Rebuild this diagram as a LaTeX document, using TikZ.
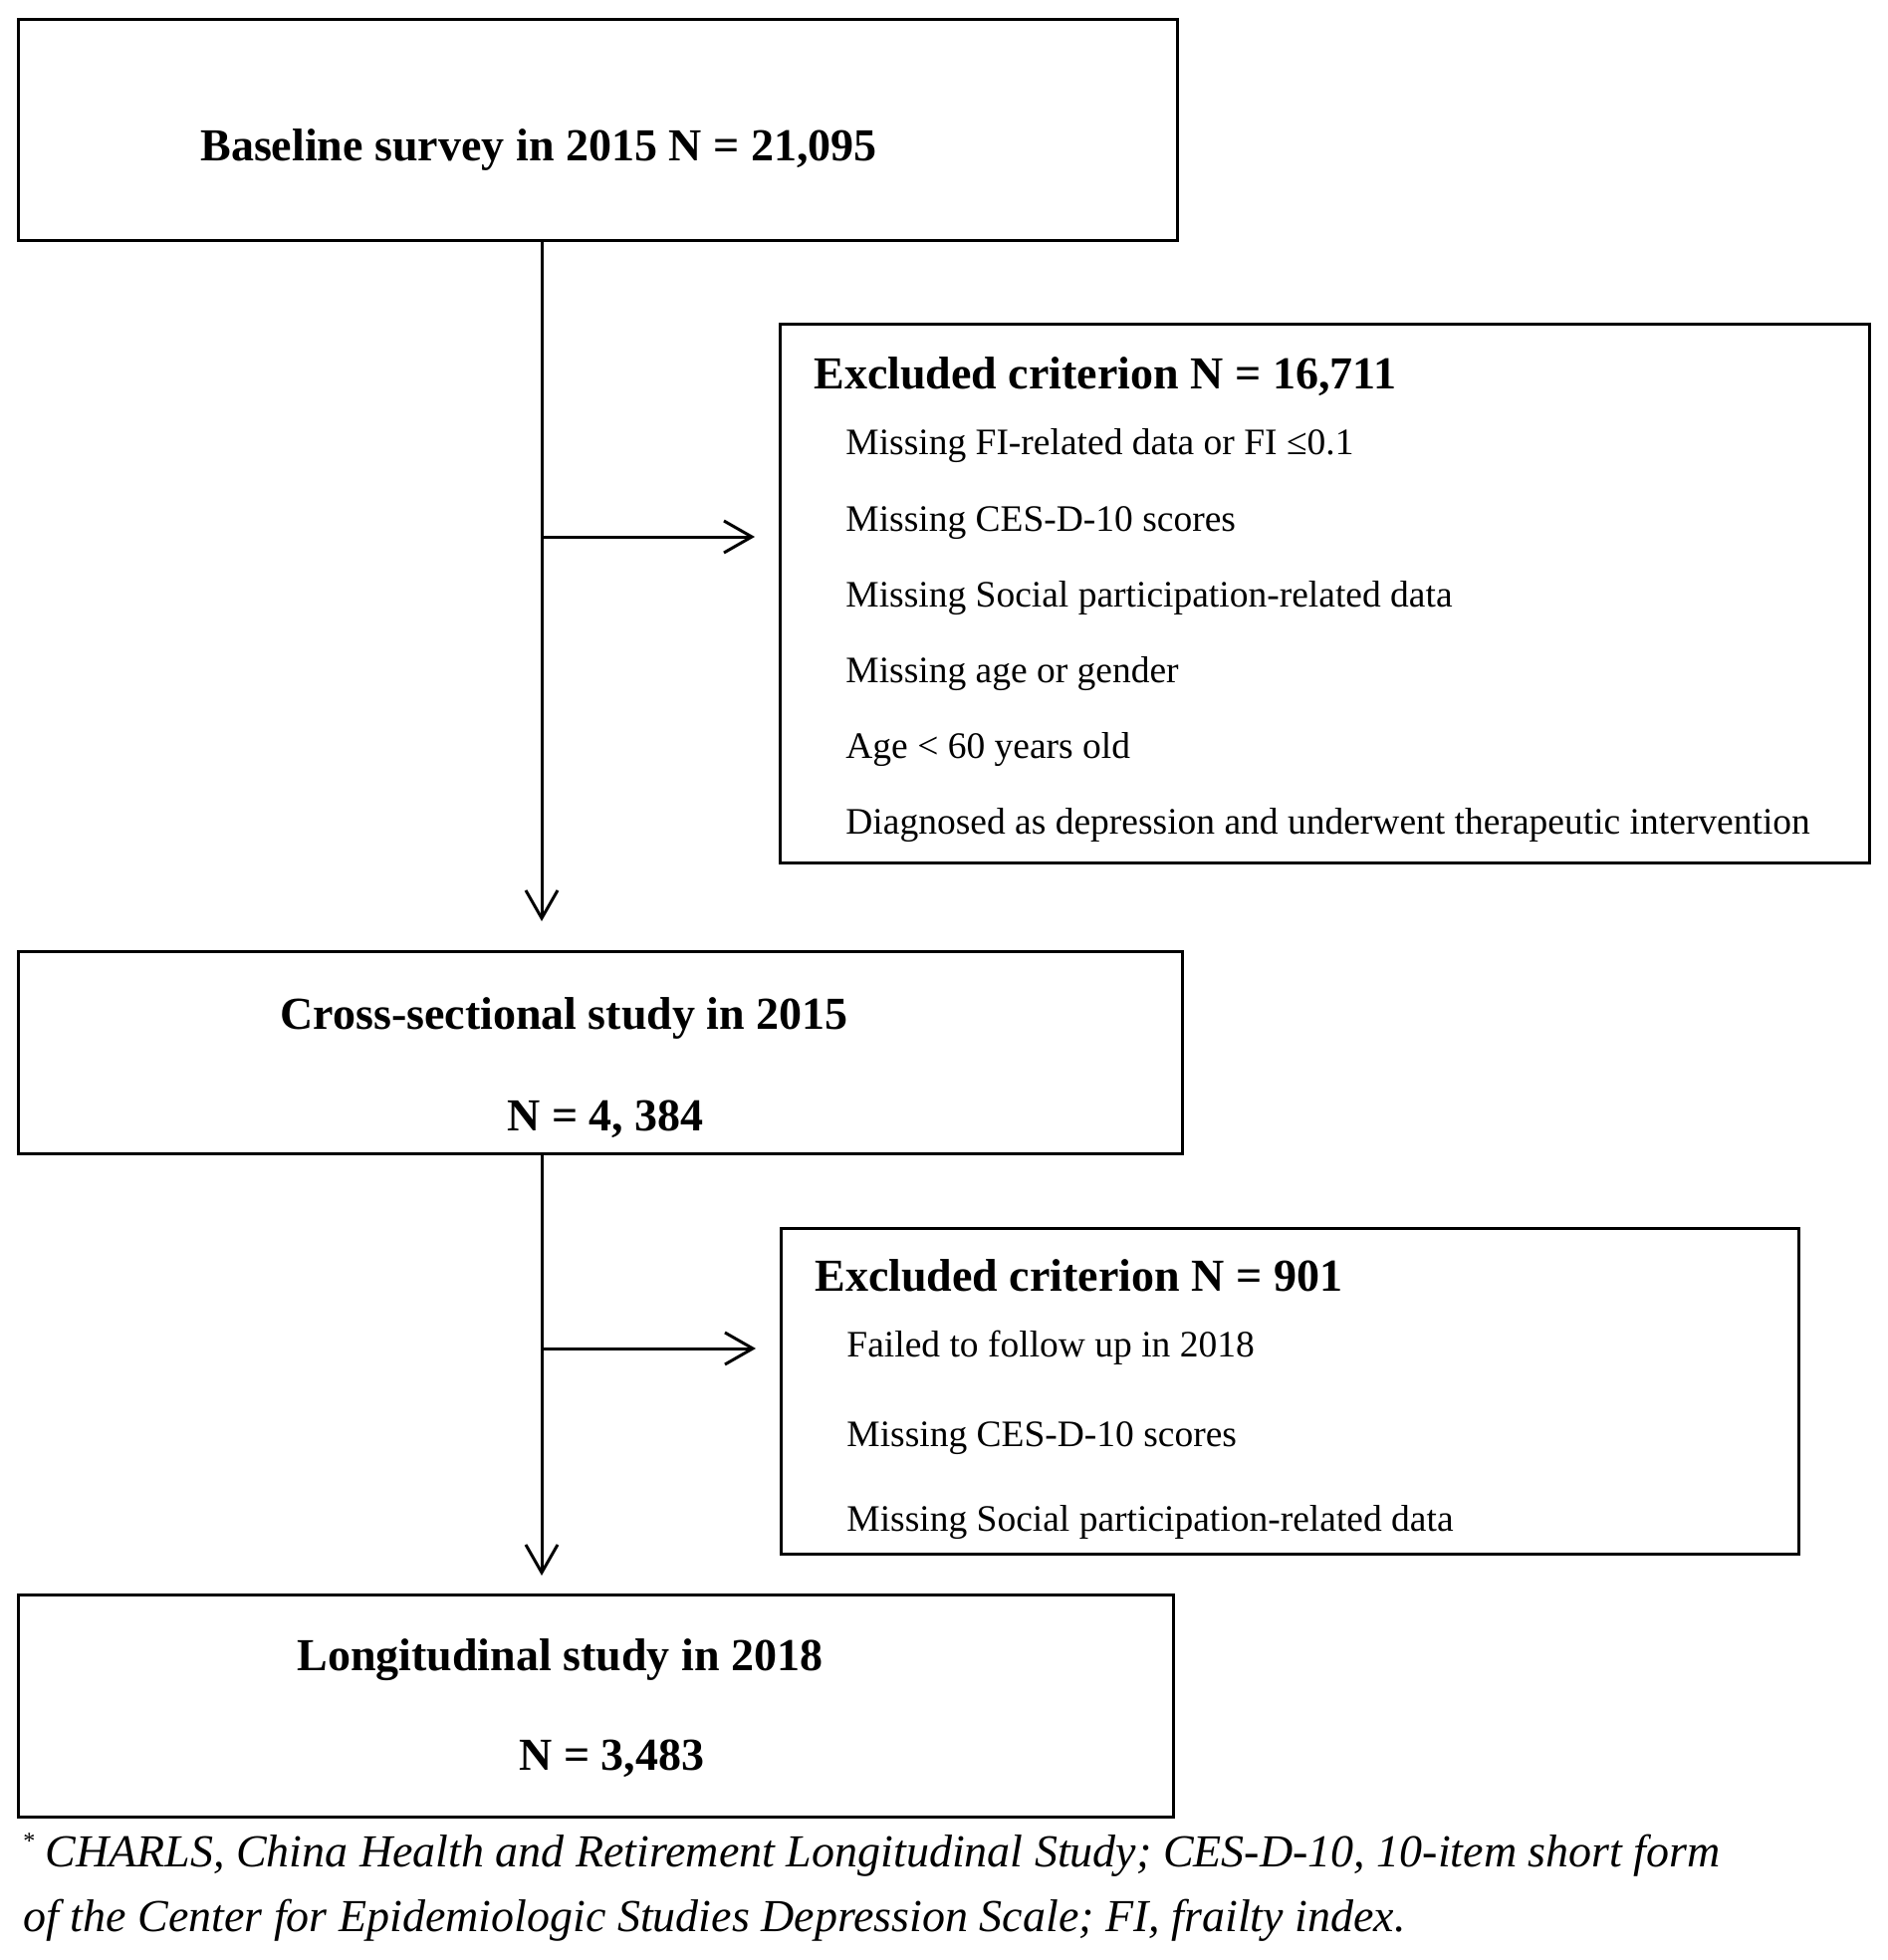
\documentclass[tikz,border=0pt]{standalone}
\usepackage{fontspec}
\setmainfont{Liberation Serif}
\usetikzlibrary{arrows.meta}
\tikzset{
  box/.style={draw, line width=1.5pt, inner sep=0pt, outer sep=0pt, rectangle},
  ttl/.style={anchor=base west, inner sep=0pt, font=\fontsize{23}{27}\selectfont\bfseries},
  itm/.style={anchor=base west, inner sep=0pt, font=\fontsize{18.75}{22}\selectfont},
  fnt/.style={anchor=base west, inner sep=0pt, font=\fontsize{23}{27}\selectfont\itshape},
  arr/.style={line width=1.5pt, -{Straight Barb[length=14pt,width=16pt,line width=1.5pt]}},
  ln/.style={line width=1.5pt}
}
\begin{document}
\begin{tikzpicture}[x=0.5pt,y=-0.5pt]
\useasboundingbox (0,0) rectangle (1895,1968);
% boxes
\node[box, minimum width=582pt, minimum height=111pt] (b1) at (600,131) {};
\node[box, minimum width=547pt, minimum height=270pt] (ex1) at (1330,596) {};
\node[box, minimum width=584.5pt, minimum height=101.5pt] (b3) at (602.5,1056.5) {};
\node[box, minimum width=511pt, minimum height=163.5pt] (ex2) at (1295,1396.5) {};
\node[box, minimum width=580pt, minimum height=111.5pt] (b5) at (598,1712.5) {};
% texts
\node[ttl] (t1) at (201,162) {Baseline survey in 2015 N = 21,095};
\node[ttl] (t2) at (817,391) {Excluded criterion N = 16,711};
\node[itm] (i1) at (849,457) {Missing FI-related data or FI ≤0.1};
\node[itm] (i2) at (849,533) {Missing CES-D-10 scores};
\node[itm] (i3) at (849,609) {Missing Social participation-related data};
\node[itm] (i4) at (849,685) {Missing age or gender};
\node[itm] (i5) at (849,761) {Age < 60 years old};
\node[itm] (i6) at (849,837) {Diagnosed as depression and underwent therapeutic intervention};
\node[ttl] (t3) at (281,1033) {Cross-sectional study in 2015};
\node[ttl] (t3n) at (509,1135) {N = 4, 384};
\node[ttl] (t4) at (818,1296) {Excluded criterion N = 901};
\node[itm] (j1) at (850,1362) {Failed to follow up in 2018};
\node[itm] (j2) at (850,1452) {Missing CES-D-10 scores};
\node[itm] (j3) at (850,1537) {Missing Social participation-related data};
\node[ttl] (t5) at (298,1677) {Longitudinal study in 2018};
\node[ttl] (t5n) at (521,1777) {N = 3,483};
\node[fnt] (f1) at (23,1874) {\raisebox{9pt}{\fontsize{12}{12}\selectfont\upshape *}\hspace{5pt}CHARLS, China Health and Retirement Longitudinal Study; CES-D-10, 10-item short form};
\node[fnt] (f2) at (23,1939) {of the Center for Epidemiologic Studies Depression Scale; FI, frailty index.};
% connectors
\coordinate (s1) at (544,0);
\coordinate (br1) at (544,539);
\coordinate (br2) at (544,1354);
\draw[arr, shorten >=15pt] (b1.south -| s1) -- (b3.north -| s1);
\draw[arr, shorten >=12.5pt] (br1) -- (br1 -| ex1.west);
\draw[arr, shorten >=9.5pt] (b3.south -| s1) -- (b5.north -| s1);
\draw[arr, shorten >=12.5pt] (br2) -- (br2 -| ex2.west);
\end{tikzpicture}
\end{document}
